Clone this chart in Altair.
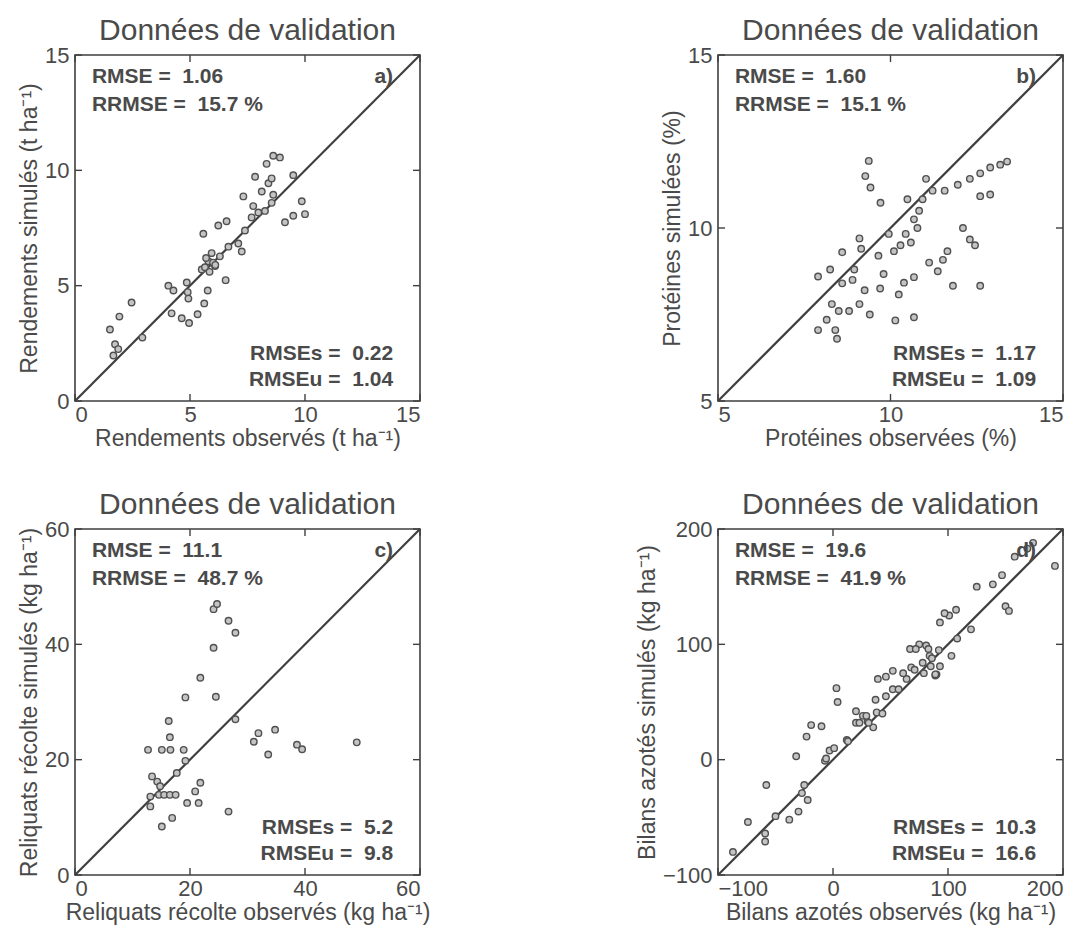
import altair as alt
import pandas as pd

# ---------------- data ----------------
obs_a = [1.52, 1.93, 2.46, 1.74, 1.88, 1.67, 2.93, 4.06, 4.28, 4.86, 4.90, 4.93, 4.20, 4.64, 4.96,
         5.33, 5.62, 5.77, 6.55, 5.58, 6.23, 6.59, 5.51, 5.80, 6.09, 5.94, 6.30, 6.67, 7.10, 7.25,
         7.39, 7.68, 7.97, 8.26, 7.75, 7.32, 8.12, 8.41, 8.55, 7.83, 8.33, 8.62, 8.91, 9.49, 9.13,
         9.49, 9.86, 10.0, 8.62, 8.55, 5.65, 5.85, 6.00, 5.70, 6.10]
sim_a = [3.10, 3.66, 4.27, 2.46, 2.25, 1.97, 2.75, 5.00, 4.79, 5.14, 4.72, 4.44, 3.80, 3.59, 3.38,
         3.76, 4.23, 4.79, 5.24, 7.25, 7.61, 7.79, 5.70, 6.06, 5.85, 6.41, 6.27, 6.69, 6.83, 6.48,
         7.39, 7.96, 8.17, 8.24, 8.45, 8.87, 9.08, 9.44, 9.65, 9.72, 10.28, 10.63, 10.56, 9.79, 7.75,
         8.03, 8.66, 8.10, 8.94, 8.59, 5.80, 5.60, 6.00, 6.20, 5.90]

obs_b = [7.90, 8.25, 8.60, 8.30, 8.50, 8.15, 7.90, 8.40, 8.45, 8.60, 9.10, 9.15, 9.65, 8.95, 8.90,
         9.25, 9.70, 8.80, 9.10, 9.40, 9.37, 9.27, 9.42, 9.71,
         11.03, 10.49, 10.93, 11.22, 11.57, 11.95, 12.30, 12.60, 12.89, 13.18, 13.38, 10.83, 10.68,
         10.78, 12.60, 12.89, 9.95, 10.44, 10.29, 10.59, 12.10, 12.30, 12.45, 10.10, 11.65, 11.52,
         11.12, 11.37, 9.80, 10.68, 10.39, 10.24, 11.81, 12.60, 10.14, 10.68]
sim_b = [8.60, 8.80, 8.40, 7.80, 7.60, 7.35, 7.05, 7.05, 6.80, 9.30, 9.70, 9.40, 9.20, 8.80, 8.50,
         8.20, 8.25, 7.60, 7.80, 7.50, 11.94, 11.50, 11.17, 10.73,
         11.42, 10.83, 10.83, 11.08, 11.08, 11.25, 11.42, 11.58, 11.75, 11.83, 11.92, 10.50, 10.25,
         10.00, 10.92, 10.97, 9.83, 9.83, 9.50, 9.58, 10.00, 9.67, 9.50, 9.33, 9.33, 9.08,
         9.00, 8.75, 8.67, 8.58, 8.42, 8.08, 8.33, 8.33, 7.33, 7.42]

obs_c = [24.1, 24.7, 26.7, 27.9, 24.1, 21.8, 19.2, 24.5, 27.9, 16.3, 16.5, 12.7, 15.1, 16.6, 18.9,
         31.9, 31.1, 34.8, 38.6, 33.6, 19.2, 17.7, 13.4, 14.3, 14.8, 14.6, 15.5, 16.5, 17.5, 13.1,
         21.8, 20.9, 21.5, 19.5, 13.1, 16.9, 15.1, 26.7, 49.0, 39.5]
sim_c = [46.1, 47.0, 44.1, 42.0, 39.4, 34.2, 30.8, 30.9, 27.0, 26.7, 23.9, 21.7, 21.7, 21.7, 21.7,
         24.6, 23.1, 25.2, 22.6, 20.9, 19.8, 17.7, 17.1, 16.2, 15.4, 13.9, 13.9, 13.9, 13.9, 13.6,
         16.0, 14.5, 12.5, 12.5, 11.9, 9.9, 8.4, 11.0, 23.0, 21.8]

obs_d = [-87, -74, -59, -59, -58, -50, -38, -30, -22, -27, -25, -32, -23, -19, -10, 3, 4, -7, -3, 1,
         12, 20, 20, 26, 30, 35, 38, 43, 46, 39, 46, 52, 52, 64, 68, 67, 75, 81, 78, 84,
         90, 93, 101, 107, 97, 72, 83, 86, 79, 89, 71, 61, 57, 37, 29, 23, 31, 13, 169, 174,
         193, 158, 147, 139, 150, 153, 125, 108, 120, 103, 92, 93, 85, 89, -6]
sim_d = [-80, -54, -64, -71, -22, -49, -52, -45, -35, -29, -22, 3, 20, 30, 29, 62, 50, -1, 8, 10,
         17, 42, 32, 38, 33, 28, 41, 40, 55, 70, 72, 77, 61, 70, 80, 96, 100, 99, 84, 90,
         74, 119, 125, 130, 127, 96, 96, 88, 75, 73, 78, 75, 61, 52, 38, 32, 32, 16, 183, 188,
         168, 176, 160, 152, 133, 129, 150, 105, 113, 90, 95, 81, 81, 74, 1]

ticks_a = [0, 5, 10, 15]
ticks_b = [5, 10, 15]
ticks_c = [0, 20, 40, 60]
ticks_d = [-100, 0, 100, 200]

titles = ["Données de validation"] * 4
xtitles = ["Rendements observés (t ha\u207b\u00b9)", "Protéines observées (%)",
           "Reliquats récolte observés (kg ha\u207b\u00b9)", "Bilans azotés observés (kg ha\u207b\u00b9)"]
ytitles = ["Rendements simulés (t ha\u207b\u00b9)", "Protéines simulées (%)",
           "Reliquats récolte simulés (kg ha\u207b\u00b9)", "Bilans azotés simulés (kg ha\u207b\u00b9)"]
top_stats = [["RMSE =\u00a0 1.06", "RRMSE =\u00a0 15.7 %"],
             ["RMSE =\u00a0 1.60", "RRMSE =\u00a0 15.1 %"],
             ["RMSE =\u00a0 11.1", "RRMSE =\u00a0 48.7 %"],
             ["RMSE =\u00a0 19.6", "RRMSE =\u00a0 41.9 %"]]
bot_stats = [["RMSEs =\u00a0 0.22", "RMSEu =\u00a0 1.04"],
             ["RMSEs =\u00a0 1.17", "RMSEu =\u00a0 1.09"],
             ["RMSEs =\u00a0 5.2", "RMSEu =\u00a0 9.8"],
             ["RMSEs =\u00a0 10.3", "RMSEu =\u00a0 16.6"]]
labels = ["a)", "b)", "c)", "d)"]

# ---------------- style ----------------
FONT = "Liberation Sans"
TXT = "#4a4a4a"
LINE = "#3f3f3f"
W, H = 345, 346


def panel(obs, sim, ticks, title, xt, yt, tstats, bstats, lab):
    lo, hi = ticks[0], ticks[-1]
    r = hi - lo
    xs = alt.Scale(domain=[lo, hi], nice=False, zero=False)
    ys = alt.Scale(domain=[lo, hi], nice=False, zero=False)
    xax = alt.Axis(values=ticks, title=xt, format="d")
    yax = alt.Axis(values=ticks, title=yt, format="d")

    def X(f):
        return alt.X(f, type="quantitative", scale=xs, axis=xax)

    def Y(f):
        return alt.Y(f, type="quantitative", scale=ys, axis=yax)

    pts = pd.DataFrame({"obs": obs, "sim": sim})
    one = pd.DataFrame({"v": [lo, hi]})
    tk = pd.DataFrame({"t": ticks})

    line = alt.Chart(one).mark_line(color=LINE, strokeWidth=2.2).encode(x=X("v"), y=Y("v"))
    points = alt.Chart(pts).mark_circle(size=42, fill="#c4c4c4", stroke="#505050",
                                        strokeWidth=1.4, opacity=1).encode(x=X("obs"), y=Y("sim"))
    tb = alt.Chart(tk).mark_rule(color=LINE, strokeWidth=1.4).encode(
        x=X("t"), y=alt.value(H), y2=alt.value(H - 7))
    tt = alt.Chart(tk).mark_rule(color=LINE, strokeWidth=1.4).encode(
        x=X("t"), y=alt.value(0), y2=alt.value(7))
    tl = alt.Chart(tk).mark_rule(color=LINE, strokeWidth=1.4).encode(
        y=Y("t"), x=alt.value(0), x2=alt.value(7))
    tr = alt.Chart(tk).mark_rule(color=LINE, strokeWidth=1.4).encode(
        y=Y("t"), x=alt.value(W), x2=alt.value(W - 7))

    top = pd.DataFrame({"x": [lo + 0.049 * r] * 2,
                        "y": [lo + 0.936 * r, lo + 0.855 * r],
                        "s": tstats})
    bot = pd.DataFrame({"x": [lo + 0.922 * r] * 2,
                        "y": [lo + 0.136 * r, lo + 0.061 * r],
                        "s": bstats})
    labd = pd.DataFrame({"x": [lo + 0.922 * r], "y": [lo + 0.936 * r], "s": [lab]})
    tkw = dict(font=FONT, fontSize=21, fontWeight="bold", color=TXT, baseline="middle")
    ttop = alt.Chart(top).mark_text(align="left", **tkw).encode(x=X("x"), y=Y("y"), text="s:N")
    tbot = alt.Chart(bot).mark_text(align="right", **tkw).encode(x=X("x"), y=Y("y"), text="s:N")
    tlab = alt.Chart(labd).mark_text(align="right", **tkw).encode(x=X("x"), y=Y("y"), text="s:N")

    return alt.layer(line, points, tb, tt, tl, tr, ttop, tbot, tlab).properties(
        width=W, height=H,
        title=alt.TitleParams(title, font=FONT, fontSize=30, fontWeight="normal", color=TXT,
                              anchor="middle", baseline="bottom", offset=-32))


data = [(obs_a, sim_a, ticks_a), (obs_b, sim_b, ticks_b), (obs_c, sim_c, ticks_c), (obs_d, sim_d, ticks_d)]
panels = [panel(o, s, t, titles[i], xtitles[i], ytitles[i], top_stats[i], bot_stats[i], labels[i])
          for i, (o, s, t) in enumerate(data)]

chart = alt.concat(*panels, columns=2, bounds="flush",
                   spacing={"column": 298, "row": 128}).properties(
    padding={"left": 9, "top": 7, "right": 0, "bottom": 0}
).configure_view(stroke=LINE, strokeWidth=1.6).configure_axis(
    grid=False, ticks=False, tickSize=0, domain=False,
    labelFont=FONT, labelFontSize=22, labelColor=TXT, labelPadding=6,
    titleFont=FONT, titleFontSize=23, titleFontWeight="normal", titleColor=TXT,
).configure_axisY(titlePadding=3).configure_axisX(labelPadding=3, titlePadding=1,
                                                  minExtent=25, maxExtent=25)

chart.save("out.html", embed_options={"renderer": "svg", "actions": False})
